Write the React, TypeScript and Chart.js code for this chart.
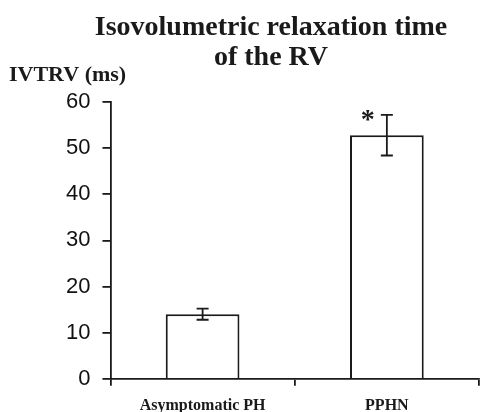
import React, { useEffect, useRef } from "react";
import { Chart, registerables } from "chart.js";

Chart.register(...registerables);

const categories = ["Asymptomatic PH", "PPHN"];
const means = [14, 52.8];
const errors = [1.2, 4.4];
const significance = ["", "*"];
const yTicks = [0, 10, 20, 30, 40, 50, 60];
const titleLines = ["Isovolumetric relaxation time", "of the RV"];
const yTitle = "IVTRV (ms)";

const ink = "#1a1a1a";

const overlayPlugin = {
  id: "overlay",
  afterDatasetsDraw(chart: any) {
    const ctx = chart.ctx;
    const meta = chart.getDatasetMeta(0);
    const ys = chart.scales.y;
    ctx.save();
    ctx.strokeStyle = ink;
    ctx.lineWidth = 1.8;
    meta.data.forEach((bar: any, i: number) => {
      const x = bar.x;
      const top = ys.getPixelForValue(means[i] + errors[i]);
      const bot = ys.getPixelForValue(means[i] - errors[i]);
      const cap = 6;
      ctx.beginPath();
      ctx.moveTo(x, top);
      ctx.lineTo(x, bot);
      ctx.moveTo(x - cap, top);
      ctx.lineTo(x + cap, top);
      ctx.moveTo(x - cap, bot);
      ctx.lineTo(x + cap, bot);
      ctx.stroke();
      if (significance[i]) {
        ctx.fillStyle = ink;
        ctx.font = "bold 28px 'Liberation Serif'";
        ctx.textAlign = "center";
        ctx.textBaseline = "middle";
        ctx.fillText(significance[i], x - 19, top + 6);
      }
    });
    ctx.restore();
  },
  afterDraw(chart: any) {
    const ctx = chart.ctx;
    ctx.save();
    ctx.fillStyle = ink;
    ctx.textBaseline = "alphabetic";
    ctx.textAlign = "center";
    ctx.font = "bold 28px 'Liberation Serif'";
    ctx.fillText(titleLines[0], 271, 35);
    ctx.fillText(titleLines[1], 271, 65);
    ctx.textAlign = "left";
    ctx.font = "bold 22px 'Liberation Serif'";
    ctx.fillText(yTitle, 9, 81);
    ctx.restore();
  },
};

export default function App() {
  const ref = useRef<HTMLCanvasElement | null>(null);
  useEffect(() => {
    if (!ref.current) return;
    const chart = new Chart(ref.current, {
      type: "bar",
      data: {
        labels: categories,
        datasets: [
          {
            data: means,
            backgroundColor: "#ffffff",
            borderColor: ink,
            borderWidth: 2,
            barPercentage: 0.4,
            categoryPercentage: 1,
          },
        ],
      },
      options: {
        responsive: false,
        animation: false,
        devicePixelRatio: 1,
        layout: { padding: { top: 102, left: 54, right: 2, bottom: -13 } },
        plugins: { legend: { display: false }, tooltip: { enabled: false }, title: { display: false } },
        scales: {
          x: {
            type: "category",
            offset: true,
            grid: { offset: true, drawOnChartArea: false, drawTicks: true, tickLength: 7, color: ink, lineWidth: 1.8 },
            border: { color: ink, width: 1.8 },
            ticks: {
              color: ink,
              padding: 10,
              font: { family: "'Liberation Serif'", weight: "bold", size: 16 },
            },
          },
          y: {
            min: 0,
            max: 60,
            afterBuildTicks: (scale: any) => {
              scale.ticks = yTicks.map((v) => ({ value: v }));
            },
            grid: { drawOnChartArea: false, drawTicks: true, tickLength: 8, color: ink, lineWidth: 1.8 },
            border: { color: ink, width: 1.8 },
            ticks: {
              color: "#111",
              padding: 12,
              font: { family: "'Liberation Sans'", size: 22 },
            },
          },
        },
      },
      plugins: [overlayPlugin],
    });
    return () => chart.destroy();
  }, []);
  return (
    <div style={{ position: "fixed", left: 0, top: 0, width: 481, height: 412, background: "#fff" }}>
      <canvas ref={ref} width={481} height={412} />
    </div>
  );
}
